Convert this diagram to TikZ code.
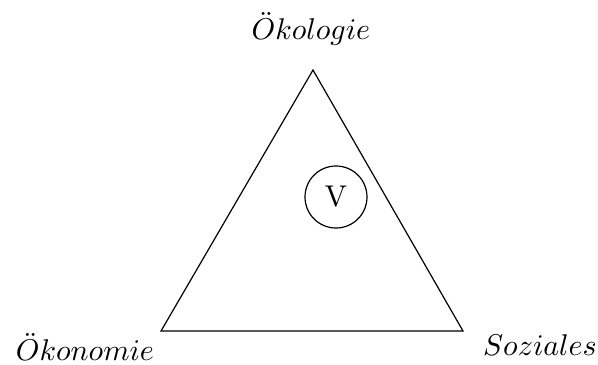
\documentclass[tikz,border=0pt]{standalone}
\begin{document}
\begin{tikzpicture}[x=0.3333pt,y=-0.3333pt,
  edge/.style={draw=black,line width=0.4pt},
  lbl/.style={inner sep=0pt}]
\useasboundingbox (0,0) rectangle (598,364);
\coordinate (top) at (313,70);
\coordinate (left) at (161,331);
\coordinate (right) at (463,331);
\draw[edge] (top) -- (left) -- (right) -- cycle;
\node[draw,circle,minimum size=62*0.3333pt,inner sep=0pt] (v) at (336,197) {V};
\node[lbl] (oek) at (311,29) {$\ddot{O}kologie$};
\node[lbl] (oekon) at (85,347) {$\ddot{O}konomie$};
\node[lbl] (soz) at (540,345.5) {$Soziales$};
\end{tikzpicture}
\end{document}
